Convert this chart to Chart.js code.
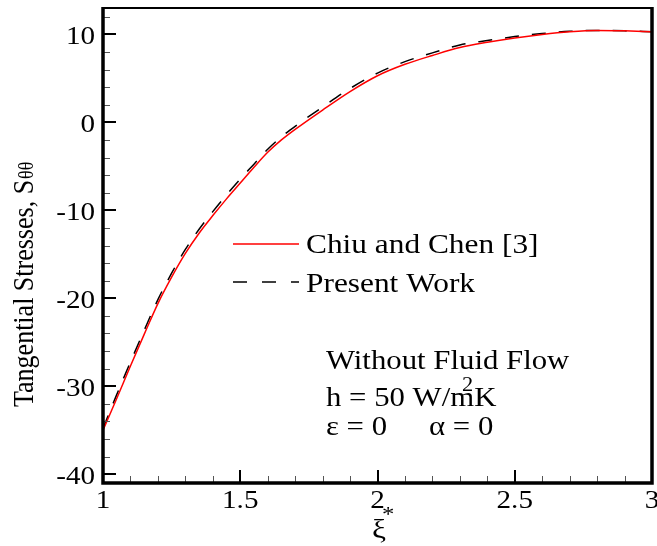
<!DOCTYPE html>
<html>
<head>
<meta charset="utf-8">
<title>Tangential Stresses</title>
<script src="https://cdn.jsdelivr.net/npm/chart.js@4.4.0/dist/chart.umd.min.js"></script>
<style>
    html, body { margin: 0; padding: 0; background: #fff; }
    canvas { display: block; }
</style>
</head>
<body>
<canvas id="stressChart" width="657" height="546"></canvas>
<script>
// Radial position xi*
const xiValues = [1.0, 1.05, 1.1, 1.15, 1.2, 1.25, 1.3, 1.35, 1.4, 1.45, 1.5, 1.55, 1.6, 1.65, 1.7, 1.8, 1.9, 2.0, 2.1, 2.2, 2.3, 2.4, 2.5, 2.6, 2.7, 2.8, 2.9, 3.0];

// Chiu and Chen [3]
const chiuChen = [-35.0, -31.4, -27.7, -24.1, -20.6, -17.6, -14.9, -12.6, -10.6, -8.7, -6.9, -5.1, -3.4, -2.0, -0.8, 1.4, 3.5, 5.3, 6.6, 7.6, 8.5, 9.1, 9.6, 10.0, 10.3, 10.45, 10.4, 10.3];

// Present Work
const presentWork = [-34.8, -30.95, -27.25, -23.65, -20.15, -17.15, -14.45, -12.15, -10.15, -8.25, -6.45, -4.75, -3.05, -1.65, -0.45, 1.75, 3.85, 5.6, 6.9, 7.9, 8.8, 9.3, 9.75, 10.1, 10.35, 10.45, 10.4, 10.3];

const xMajorTicks = [1, 1.5, 2, 2.5, 3];
const yMajorTicks = [-40, -30, -20, -10, 0, 10];
const xTickLabels = ['1', '1.5', '2', '2.5', '3'];
const yTickLabels = ['-40', '-30', '-20', '-10', '0', '10'];

const serif = '"Liberation Serif", "Times New Roman", serif';

function pairs(xs, ys) {
    return xs.map((x, i) => ({ x: x, y: ys[i] }));
}

// text helper, the figure's lettering is a bit wider than normal
function drawText(ctx, str, x, y, size, align, sx) {
    ctx.save();
    ctx.font = size + 'px ' + serif;
    ctx.fillStyle = '#000';
    ctx.textAlign = align || 'left';
    ctx.textBaseline = 'alphabetic';
    ctx.translate(x, y);
    ctx.scale(sx || 1.12, 1);
    ctx.fillText(str, 0, 0);
    ctx.restore();
}

const framePlugin = {
    id: 'frame',
    afterDraw(chart) {
        const ctx = chart.ctx;
        const xs = chart.scales.x;
        const ys = chart.scales.y;
        const a = chart.chartArea;

        ctx.save();
        ctx.lineCap = 'butt';

        // minor ticks
        ctx.lineWidth = 1;
        ctx.strokeStyle = '#555';
        for (let v = 1.1; v < 3; v += 0.1) {
            const px = Math.round(xs.getPixelForValue(v)) + 0.5;
            ctx.beginPath();
            ctx.moveTo(px, a.bottom);
            ctx.lineTo(px, a.bottom - 7);
            ctx.stroke();
        }
        for (let v = -40; v <= 12; v += 2) {
            if (v % 10 === 0) continue;
            const py = Math.round(ys.getPixelForValue(v)) + 0.5;
            ctx.beginPath();
            ctx.moveTo(a.left, py);
            ctx.lineTo(a.left + 7, py);
            ctx.stroke();
        }

        // major ticks
        ctx.strokeStyle = '#000';
        ctx.lineWidth = 2;
        xMajorTicks.forEach(v => {
            const px = Math.round(xs.getPixelForValue(v));
            ctx.beginPath();
            ctx.moveTo(px, a.bottom);
            ctx.lineTo(px, a.bottom - 13);
            ctx.stroke();
        });
        yMajorTicks.forEach(v => {
            const py = Math.round(ys.getPixelForValue(v));
            ctx.beginPath();
            ctx.moveTo(a.left, py);
            ctx.lineTo(a.left + 13, py);
            ctx.stroke();
        });

        // box
        ctx.lineWidth = 2;
        ctx.beginPath();
        ctx.moveTo(a.left, a.top);
        ctx.lineTo(a.right, a.top);
        ctx.stroke();
        ctx.lineWidth = 3.5;
        ctx.beginPath();
        ctx.moveTo(a.left, a.top - 1);
        ctx.lineTo(a.left, a.bottom);
        ctx.lineTo(a.right, a.bottom);
        ctx.lineTo(a.right, a.top - 1);
        ctx.stroke();

        // tick labels
        xMajorTicks.forEach((v, i) => {
            drawText(ctx, xTickLabels[i], xs.getPixelForValue(v), 508, 26, 'center');
        });
        yMajorTicks.forEach((v, i) => {
            drawText(ctx, yTickLabels[i], 95, ys.getPixelForValue(v) + 9.5, 26, 'right');
        });

        // legend
        ctx.lineWidth = 1.5;
        ctx.strokeStyle = '#ff0000';
        ctx.beginPath();
        ctx.moveTo(233, 244);
        ctx.lineTo(299, 244);
        ctx.stroke();
        ctx.strokeStyle = '#000';
        ctx.setLineDash([14, 15]);
        ctx.beginPath();
        ctx.moveTo(233, 282);
        ctx.lineTo(299, 282);
        ctx.stroke();
        ctx.setLineDash([]);
        drawText(ctx, 'Chiu and Chen [3]', 306, 253, 28, 'left', 1.12);
        drawText(ctx, 'Present Work', 306, 292, 28, 'left', 1.12);

        // case description
        drawText(ctx, 'Without Fluid Flow', 326, 369, 27, 'left', 1.14);
        drawText(ctx, 'h = 50 W/mK', 326, 406, 27, 'left', 1.14);
        drawText(ctx, '2', 462, 391, 20, 'left', 1.12);
        drawText(ctx, '\u03b5 = 0', 326, 435, 27, 'left', 1.14);
        drawText(ctx, '\u03b1 = 0', 429, 435, 27, 'left', 1.14);

        // x axis title
        drawText(ctx, '\u03be', 379, 538, 28, 'center', 1.12);
        drawText(ctx, '*', 382, 521, 22, 'left', 1.12);

        // y axis title, rotated
        ctx.save();
        ctx.fillStyle = '#000';
        ctx.translate(33, 407);
        ctx.rotate(-Math.PI / 2);
        ctx.scale(1, 1.15);
        ctx.font = '26px ' + serif;
        ctx.textAlign = 'left';
        ctx.textBaseline = 'alphabetic';
        const main = 'Tangential Stresses, S';
        ctx.fillText(main, 0, 0);
        const w = ctx.measureText(main).width;
        ctx.font = '18px ' + serif;
        ctx.fillText('\u03b8\u03b8', w + 1, 0);
        ctx.restore();

        ctx.restore();
    }
};

const stressChart = new Chart(document.getElementById('stressChart'), {
    type: 'line',
    data: {
        datasets: [{
            label: 'Chiu and Chen [3]',
            data: pairs(xiValues, chiuChen),
            borderColor: '#ff0000',
            borderWidth: 1.5,
            pointRadius: 0,
            fill: false,
            cubicInterpolationMode: 'monotone'
        }, {
            label: 'Present Work',
            data: pairs(xiValues, presentWork),
            borderColor: '#000000',
            borderWidth: 1.5,
            borderDash: [14, 13],
            pointRadius: 0,
            fill: false,
            cubicInterpolationMode: 'monotone'
        }]
    },
    options: {
        responsive: false,
        animation: false,
        devicePixelRatio: 1,
        layout: {
            padding: { top: 8, right: 5, left: 0, bottom: 0 }
        },
        plugins: {
            legend: { display: false },
            tooltip: { enabled: false }
        },
        scales: {
            x: {
                type: 'linear',
                min: 1,
                max: 3,
                grid: { display: false },
                border: { display: false },
                ticks: { display: false },
                afterFit: s => { s.height = 63; }
            },
            y: {
                type: 'linear',
                min: -41,
                max: 13,
                grid: { display: false },
                border: { display: false },
                ticks: { display: false },
                afterFit: s => { s.width = 103; }
            }
        }
    },
    plugins: [framePlugin]
});
</script>
</body>
</html>
